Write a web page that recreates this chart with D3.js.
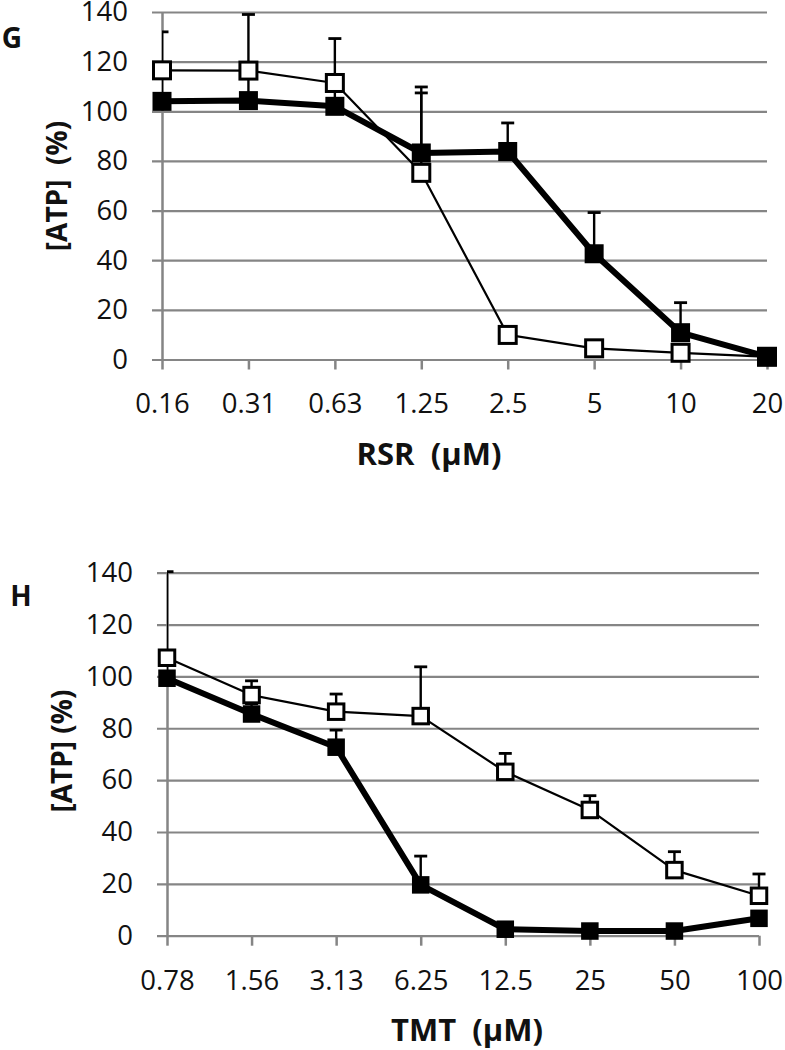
<!DOCTYPE html>
<html>
<head>
<meta charset="utf-8">
<script src="https://cdn.jsdelivr.net/npm/d3@7"></script>
<style>
  html, body { margin: 0; padding: 0; background: #fff; }
  svg { display: block; }
  text { font-family: "Open Sans", "Noto Sans", sans-serif; fill: #111; }
</style>
</head>
<body>
<svg id="chart" width="785" height="1050"></svg>
<script>
// ---- data ----
const yTicks = [0, 20, 40, 60, 80, 100, 120, 140];

const rsrConc = ["0.16", "0.31", "0.63", "1.25", "2.5", "5", "10", "20"];
const rsrOpen = [116.5, 116.4, 111.4, 75.2, 9.9, 4.5, 2.7, 1.1];
const rsrOpenSD = [15.5, 22.6, 17.9, 34.6, 1, 1, 1, 0.5];
const rsrFilled = [104.0, 104.3, 102.0, 83.2, 83.8, 42.6, 10.8, 1.1];
const rsrFilledSD = [10, 10, 8, 24.2, 11.5, 16.6, 12.1, 0.5];

const tmtConc = ["0.78", "1.56", "3.13", "6.25", "12.5", "25", "50", "100"];
const tmtOpen = [107.2, 92.8, 86.4, 84.7, 63.2, 48.5, 25.3, 15.4];
const tmtOpenSD = [33.2, 5.5, 6.8, 19.0, 7.1, 5.5, 7.1, 8.4];
const tmtFilled = [99.3, 85.5, 72.7, 19.6, 2.5, 1.8, 1.8, 6.7];
const tmtFilledSD = [5, 4, 6.6, 11.1, 1, 0.5, 0.5, 1];

const panels = [
  { id: "G", letter: "G", letterX: 12, letterY: 38,
    cats: rsrConc, open: rsrOpen, openSD: rsrOpenSD, filled: rsrFilled, filledSD: rsrFilledSD,
    x0: 162, x1: 767, y0: 359.5, y1: 12, ms: 17,
    yTitle: "[ATP]  (%)", yTitleX: 57, yTitleY: 186,
    xTitle: "RSR  (µM)", xTitleX: 429, xTitleY: 454 },
  { id: "H", letter: "H", letterX: 21, letterY: 596,
    cats: tmtConc, open: tmtOpen, openSD: tmtOpenSD, filled: tmtFilled, filledSD: tmtFilledSD,
    x0: 167, x1: 759, y0: 935.7, y1: 572.7, ms: 15.5,
    yTitle: "[ATP] (%)", yTitleX: 62, yTitleY: 751,
    xTitle: "TMT  (µM)", xTitleX: 467, xTitleY: 1030 }
];

const svg = d3.select("#chart");
const gridColor = "#858585";

panels.forEach((p, pi) => {
  const x = d3.scalePoint().domain(p.cats).range([p.x0, p.x1]).padding(0);
  const y = d3.scaleLinear().domain([0, 140]).range([p.y0, p.y1]);
  const g = svg.append("g");

  // clip for error bars (plot area)
  const clipId = "clip" + pi;
  svg.append("clipPath").attr("id", clipId)
    .append("rect").attr("x", p.x0).attr("y", 0).attr("width", p.x1 - p.x0 + 20).attr("height", 1050);

  // left axis + gridlines
  const yAxis = g.append("g").attr("transform", `translate(${p.x0},0)`)
    .call(d3.axisLeft(y).tickValues(yTicks).tickSizeInner(-(p.x1 - p.x0)).tickSizeOuter(0).tickPadding(34));
  yAxis.selectAll(".tick line").attr("x1", -10).attr("stroke", gridColor).attr("stroke-width", 2.2);
  yAxis.select(".domain").attr("stroke", gridColor).attr("stroke-width", 2.5);
  yAxis.selectAll(".tick text").attr("font-size", 27.5).attr("fill", "#111")
    .style("font-family", '"Open Sans", sans-serif');

  // bottom axis ticks
  const xAxis = g.append("g").attr("transform", `translate(0,${p.y0})`)
    .call(d3.axisBottom(x).tickSize(10).tickSizeOuter(0));
  xAxis.select(".domain").remove();
  xAxis.selectAll(".tick line").attr("stroke", gridColor).attr("stroke-width", 2.5);
  xAxis.selectAll(".tick text").attr("font-size", 27.5).attr("fill", "#111")
    .attr("y", 44).attr("dy", "0.36em")
    .style("font-family", '"Open Sans", sans-serif');

  // series
  const series = [
    { vals: p.open, sd: p.openSD, fill: "#fff", lw: 2.2, filled: false },
    { vals: p.filled, sd: p.filledSD, fill: "#000", lw: 6, filled: true }
  ];

  // error bars
  const eg = g.append("g").attr("clip-path", `url(#${clipId})`);
  series.forEach(s => {
    p.cats.forEach((c, i) => {
      const cx = x(c), top = y(s.vals[i] + s.sd[i]);
      eg.append("line").attr("x1", cx).attr("x2", cx)
        .attr("y1", y(s.vals[i])).attr("y2", top)
        .attr("stroke", "#000").attr("stroke-width", 2.4);
      eg.append("line").attr("x1", cx - 6.5).attr("x2", cx + 6.5)
        .attr("y1", top).attr("y2", top)
        .attr("stroke", "#000").attr("stroke-width", 2.8);
    });
  });

  const line = d3.line().x((d, i) => x(p.cats[i])).y(d => y(d));
  series.forEach(s => {
    g.append("path").datum(s.vals).attr("d", line)
      .attr("fill", "none").attr("stroke", "#000").attr("stroke-width", s.lw)
      .attr("stroke-linejoin", "round");
    g.selectAll(null).data(s.vals).enter().append("rect")
      .attr("x", (d, i) => x(p.cats[i]) - p.ms / 2)
      .attr("y", d => y(d) - p.ms / 2)
      .attr("width", p.ms).attr("height", p.ms)
      .attr("fill", s.fill).attr("stroke", "#000").attr("stroke-width", s.filled ? 2 : 3);
  });

  // titles
  g.append("text").attr("x", p.xTitleX).attr("y", p.xTitleY).attr("dy", "0.35em")
    .attr("text-anchor", "middle").attr("font-size", 31).attr("font-weight", "bold")
    .style("white-space", "pre").text(p.xTitle);
  g.append("text").attr("transform", `translate(${p.yTitleX},${p.yTitleY}) rotate(-90)`)
    .attr("dy", "0.35em").attr("text-anchor", "middle").attr("font-size", 28).attr("font-weight", "bold")
    .style("white-space", "pre").text(p.yTitle);
  g.append("text").attr("x", p.letterX).attr("y", p.letterY).attr("dy", "0.35em")
    .attr("text-anchor", "middle").attr("font-size", 28).attr("font-weight", "bold").text(p.letter);
});
</script>
</body>
</html>
